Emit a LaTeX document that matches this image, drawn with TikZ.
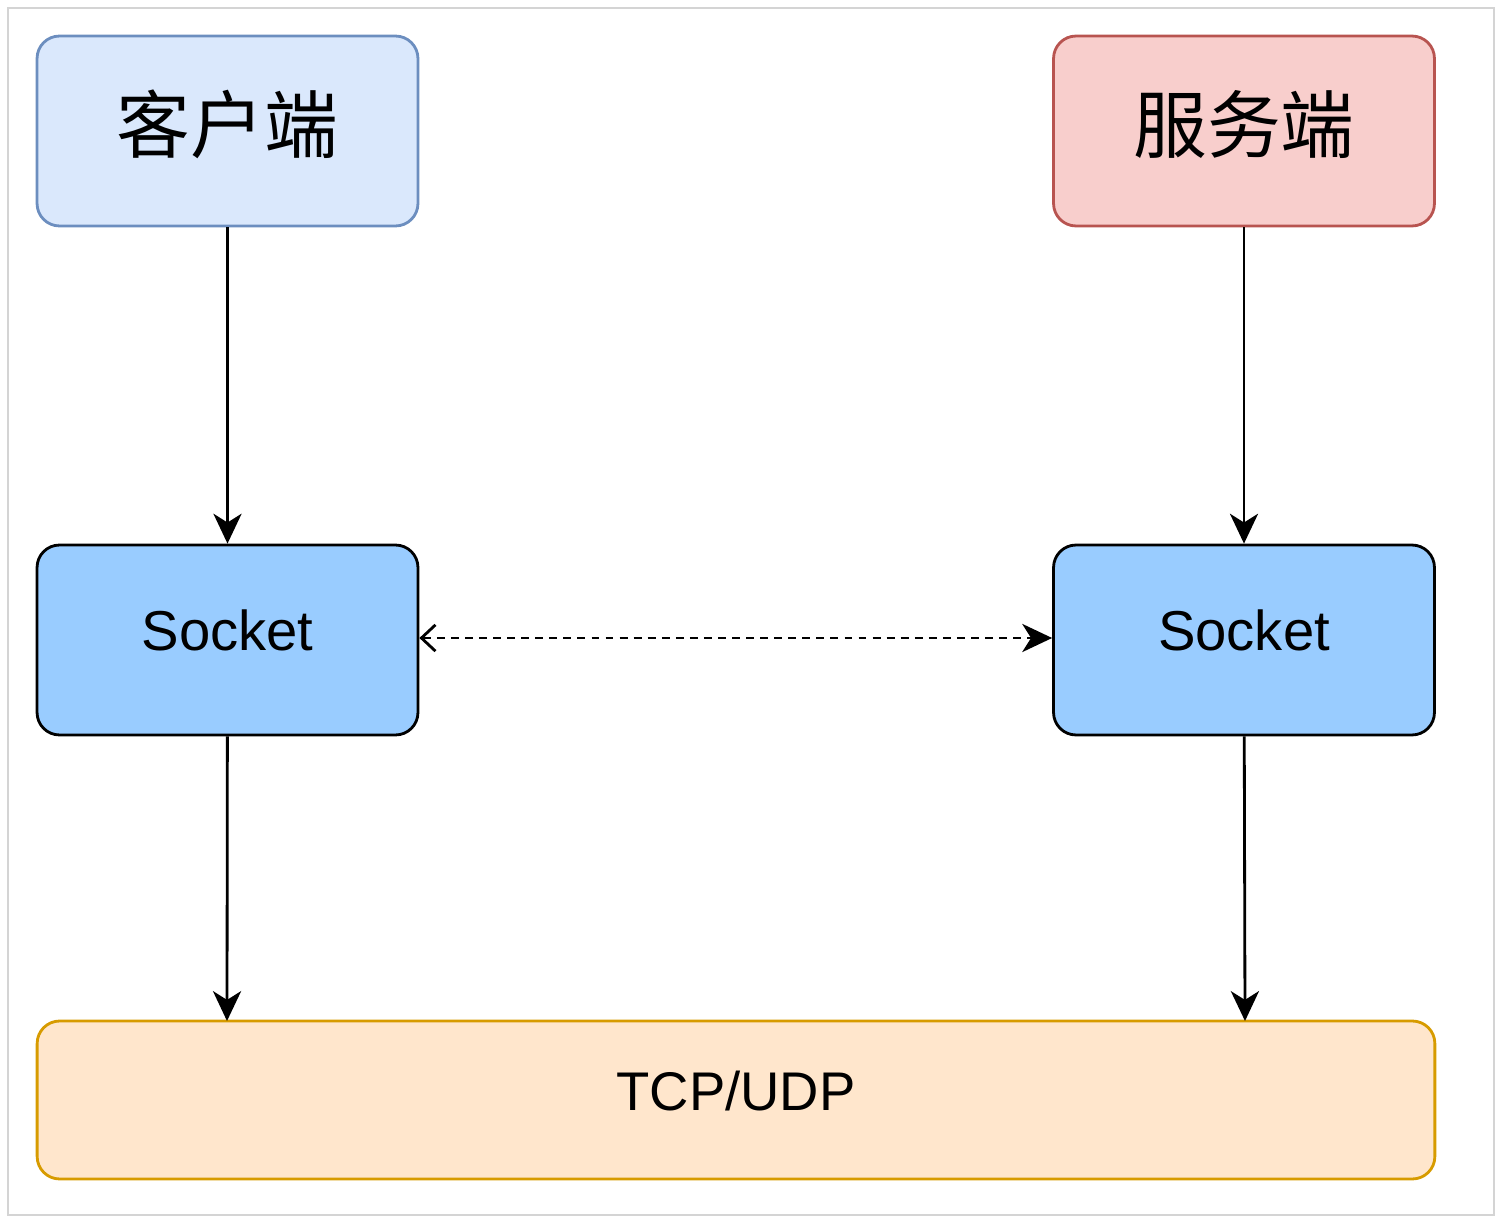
\documentclass[tikz,border=0pt]{standalone}
\usepackage{fontspec}
\setmainfont{Liberation Sans}
\newfontfamily\cjk{Noto Sans CJK SC}
\usepackage{xcolor}
\usepackage{tikz}
\usetikzlibrary{positioning}
\usetikzlibrary{arrows.meta}
\definecolor{clientfill}{HTML}{DAE8FC}
\definecolor{clientline}{HTML}{6C8EBF}
\definecolor{serverfill}{HTML}{F8CECC}
\definecolor{serverline}{HTML}{B85450}
\definecolor{sockfill}{HTML}{99CCFF}
\definecolor{tcpfill}{HTML}{FFE6CC}
\definecolor{tcpline}{HTML}{D79B00}
\definecolor{frameline}{HTML}{D4D4D4}

\begin{document}
\begin{tikzpicture}[x=0.02cm,y=-0.02cm,
  box/.style={rectangle,rounded corners=0.45cm,line width=1.6pt,minimum width=7.62cm,minimum height=3.8cm,inner sep=0pt},
  flow/.style={-{Stealth[length=17pt,width=16pt,inset=5pt]},line width=1.6pt},
  link/.style={{Straight Barb[length=8pt,width=15pt,line width=1.6pt]}-{Stealth[length=17pt,width=16pt,inset=5pt]},line width=1.6pt,dash pattern=on 4.5pt off 3.5pt}]
\useasboundingbox (0,0) rectangle (1504,1222);
\draw[frameline, line width=1.6pt] (8,8) rectangle (1494,1215);

\node[box,fill=clientfill,draw=clientline] (client) at (227.5,131) {\raisebox{-12pt}[0pt][0pt]{\fontsize{42}{50}\selectfont\cjk 客户端}};
\node[box,fill=serverfill,draw=serverline] (server) at (1244,131) {\raisebox{-12pt}[0pt][0pt]{\fontsize{42}{50}\selectfont\cjk 服务端}};

\node[box,fill=sockfill,draw=black] (sockL) at (227.5,640) {\raisebox{-5.7pt}[0pt][0pt]{\fontsize{32}{38}\selectfont Socket}};
\node[box,fill=sockfill,draw=black] (sockR) at (1244,640) {\raisebox{-5.7pt}[0pt][0pt]{\fontsize{32}{38}\selectfont Socket}};

\node[box,fill=tcpfill,draw=tcpline,minimum width=27.96cm,minimum height=3.16cm] (tcp) at (736,1100) {\raisebox{-5.7pt}[0pt][0pt]{\fontsize{31}{37}\selectfont TCP/UDP}};

\coordinate (tcpL) at (227,1021);
\coordinate (tcpR) at (1245,1021);

\draw[flow] (client) -- (sockL);
\draw[flow] (server) -- (sockR);
\draw[flow] (sockL) -- (tcpL);
\draw[flow] (sockR) -- (tcpR);
\path (sockL.east) ++(0,-2) coordinate (dl) (sockR.west) ++(0,-2) coordinate (dr);
\draw[link] (dl) -- (dr);

\end{tikzpicture}
\end{document}
